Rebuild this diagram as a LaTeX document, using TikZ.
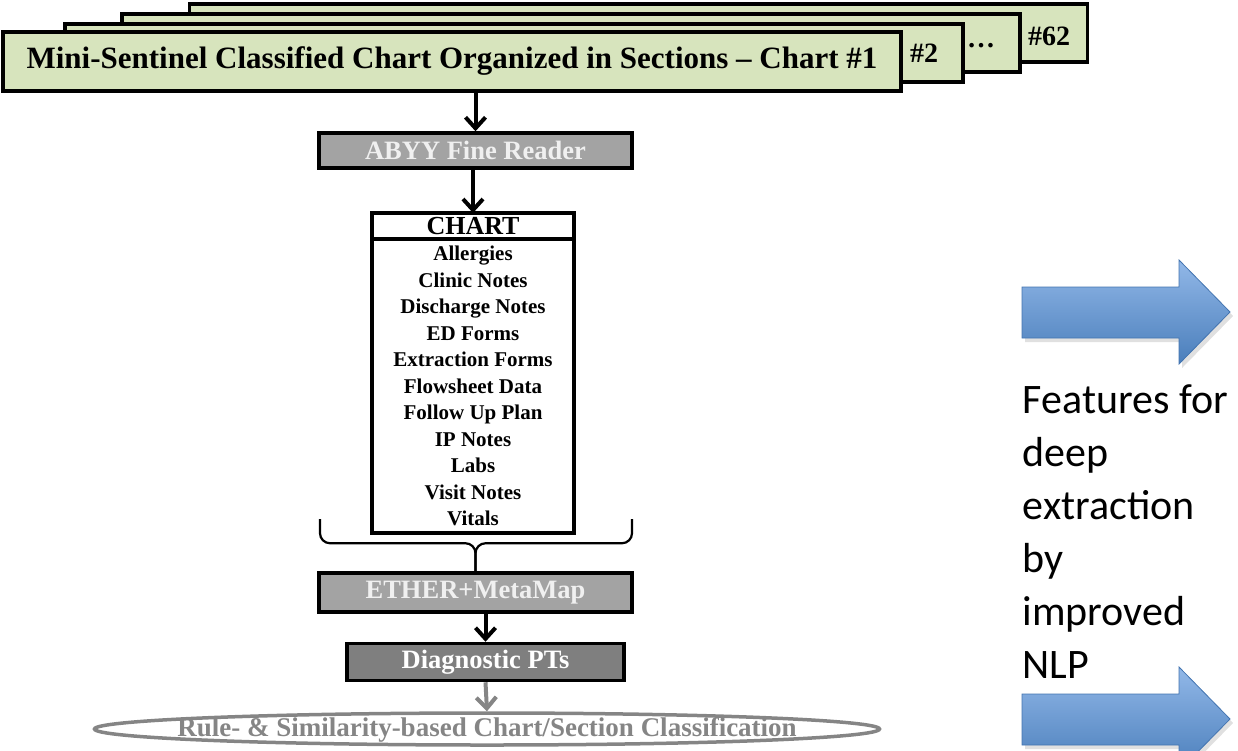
\documentclass[tikz,border=0pt]{standalone}
\usepackage{fontspec}
\setmainfont{Liberation Serif}
\newfontfamily\calibrifont{Carlito}
\usepackage{xcolor}
\usetikzlibrary{arrows.meta, calc, positioning, shapes.geometric}

\definecolor{chartgreen}{HTML}{D7E4BD}
\definecolor{toolgray}{HTML}{A3A3A3}
\definecolor{toollight}{HTML}{F0F0F0}
\definecolor{diaggray}{HTML}{7F7F7F}
\definecolor{ovalgray}{HTML}{858585}
\definecolor{arrowtop}{HTML}{92B8E8}
\definecolor{arrowbottom}{HTML}{4A7EBB}
\definecolor{arrowedge}{HTML}{4374B0}

\begin{document}
\begin{tikzpicture}[x=1pt, y=-1pt, line width=3.5pt,
    chartcard/.style={draw=black, fill=chartgreen, minimum width=898, minimum height=58, inner sep=0},
    cardlabel/.style={font=\bfseries\fontsize{28}{32}\selectfont},
    toolbox/.style={draw=black, fill=toolgray, text=toollight, inner sep=0,
        font=\bfseries\fontsize{26.5}{30}\selectfont},
    chartpart/.style={draw=black, fill=white, minimum width=202, inner sep=0, outer sep=0},
    flow/.style={-{Straight Barb[length=11pt, width=20pt]}, line width=4pt},
    brace/.style={line width=2.2pt, rounded corners=10pt},
    bluearrow/.style={draw=arrowedge, line width=0.8pt, top color=arrowtop, bottom color=arrowbottom},
    blueshadow/.style={fill=black, opacity=0.12}]

    \useasboundingbox (0,0) rectangle (1238,750);
    \clip (0,0) rectangle (1238,750);

    % stack of classified charts, back to front
    \node[chartcard] (chart62) at (638.5,33) {};
    \node[chartcard] (chartdots) at (571,43) {};
    \node[chartcard] (chart2) at (514,53) {};
    \node[chartcard, minimum height=59, font=\bfseries\fontsize{31}{36}\selectfont] (chart1) at (452,61.5)
        {Mini-Sentinel Classified Chart Organized in Sections – Chart \#1};
    \node[cardlabel] (lbl62) at (1049,36) {\#62};
    \node[cardlabel] (lbldots) at (981,46) {\dots};
    \node[cardlabel] (lbl2) at (924,53) {\#2};

    % OCR step
    \node[toolbox, minimum width=313, minimum height=35] (abyy) at (475.5,150.5) {ABYY Fine Reader};
    \draw[flow] (abyy.north |- chart1.south) -- (abyy.north);

    % chart sections
    \node[chartpart, minimum height=26, font=\bfseries\fontsize{26}{28}\selectfont] (charthead) at (473,226) {CHART};
    \node[chartpart, minimum height=294, below=0pt of charthead, align=center,
        font=\bfseries\fontsize{21}{26.5}\selectfont] (chartlist)
        {Allergies\\Clinic Notes\\Discharge Notes\\ED Forms\\Extraction Forms\\Flowsheet Data\\
         Follow Up Plan\\IP Notes\\Labs\\Visit Notes\\Vitals};
    \draw[flow] (charthead.north |- abyy.south) -- (charthead.north);

    % NLP tools
    \node[toolbox, minimum width=313, minimum height=39] (ether) at (475.5,592.5) {ETHER+MetaMap};
    \coordinate (braceL) at (320,519);
    \coordinate (braceR) at (632,519);
    \coordinate (bracemid) at ($(ether.north)+(0,-28)$);
    \draw[brace] (braceL) |- (bracemid) -- (ether.north);
    \draw[brace] (braceR) |- (bracemid) -- (ether.north);

    \node[toolbox, fill=diaggray, text=white, minimum width=277, minimum height=37] (diag) at (485.5,662) {Diagnostic PTs};
    \draw[flow] (diag.north |- ether.south) -- (diag.north);

    % classification
    \node[ellipse, draw=ovalgray, minimum width=785, minimum height=32, inner sep=0] (ruleoval) at (487,729) {};
    \node[text=ovalgray, anchor=base, font=\bfseries\fontsize{27}{30}\selectfont] (ruletext) at (487,736)
        {Rule- \& Similarity-based Chart/Section Classification};
    \draw[flow, draw=ovalgray] (diag.south) -- (ruleoval.north);

    % right hand side
    \foreach \ytop in {260,667} {
        \path[blueshadow] (1025,\ytop+31) -- (1182,\ytop+31) -- (1182,\ytop+4) -- (1233,\ytop+56)
            -- (1182,\ytop+108) -- (1182,\ytop+82) -- (1025,\ytop+82) -- cycle;
        \path[bluearrow] (1022,\ytop+27) -- (1179,\ytop+27) -- (1179,\ytop) -- (1230,\ytop+52)
            -- (1179,\ytop+104) -- (1179,\ytop+78) -- (1022,\ytop+78) -- cycle;
    }
    \node[anchor=north west, align=left, inner sep=0, font=\calibrifont\fontsize{42}{53}\selectfont] (features) at (1021,383)
        {Features for\\deep\\extraction\\by\\improved\\NLP};
\end{tikzpicture}
\end{document}
